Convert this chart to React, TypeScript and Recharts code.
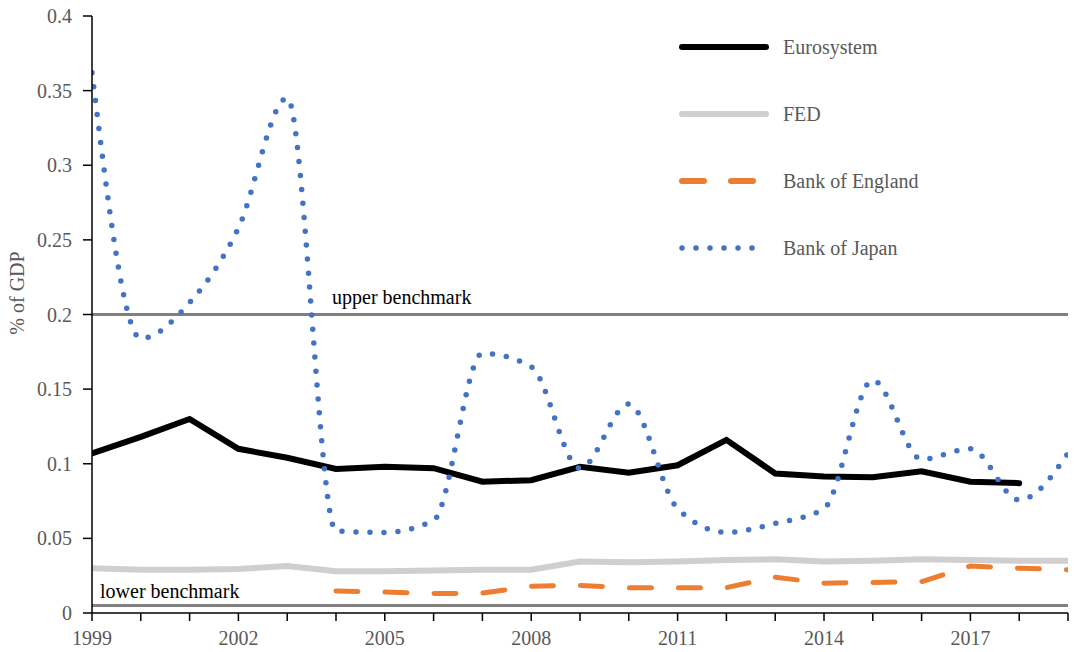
import { Line, LineChart, ReferenceLine, XAxis, YAxis } from "recharts";

const years = [1999, 2000, 2001, 2002, 2003, 2004, 2005, 2006, 2007, 2008, 2009, 2010, 2011, 2012, 2013, 2014, 2015, 2016, 2017, 2018, 2019];
const eurosystem = [0.107, 0.118, 0.13, 0.11, 0.104, 0.0965, 0.098, 0.097, 0.088, 0.089, 0.098, 0.094, 0.099, 0.116, 0.0935, 0.0915, 0.091, 0.095, 0.088, 0.087, null];
const fed = [0.03, 0.029, 0.029, 0.0295, 0.0315, 0.028, 0.028, 0.0285, 0.029, 0.029, 0.0345, 0.034, 0.0345, 0.0355, 0.036, 0.0345, 0.035, 0.036, 0.0355, 0.035, 0.035];
const bankOfEngland = [null, null, null, null, null, 0.0147, 0.014, 0.013, 0.0133, 0.018, 0.0185, 0.017, 0.017, 0.017, 0.024, 0.02, 0.0205, 0.021, 0.0315, 0.03, 0.029];
const bankOfJapan = [0.362, 0.184, 0.208, 0.258, 0.345, 0.055, 0.054, 0.062, 0.174, 0.165, 0.097, 0.14, 0.07, 0.054, 0.06, 0.07, 0.156, 0.103, 0.11, 0.0757, 0.107];

const yTicks = [0, 0.05, 0.1, 0.15, 0.2, 0.25, 0.3, 0.35, 0.4];
const upperBenchmark = 0.2;
const lowerBenchmark = 0.005;

const data = years.map((year, i) => ({
  year,
  eurosystem: eurosystem[i],
  fed: fed[i],
  boe: bankOfEngland[i],
  boj: bankOfJapan[i],
}));

const FONT = "Liberation Serif";
const GREY_TEXT = "#595959";

const series = [
  { key: "eurosystem", name: "Eurosystem", color: "#000000", dash: undefined },
  { key: "fed", name: "FED", color: "#D0CECE", dash: undefined },
  { key: "boe", name: "Bank of England", color: "#ED7D31", dash: "22 27" },
  { key: "boj", name: "Bank of Japan", color: "#4472C4", dash: "0 14" },
];

function XTick({ x, y, payload }: any) {
  const v = payload.value;
  return (
    <g>
      <line x1={x} x2={x} y1={y - 8} y2={y} stroke="#000" strokeWidth={1.5} />
      {(v - 1999) % 3 === 0 && (
        <text x={x} y={y + 24} textAnchor="middle" fill={GREY_TEXT} fontSize={20} fontFamily={FONT}>
          {v}
        </text>
      )}
    </g>
  );
}

function YTick({ x, y, payload }: any) {
  return (
    <text x={x} y={y + 7} textAnchor="end" fill={GREY_TEXT} fontSize={20} fontFamily={FONT}>
      {payload.value}
    </text>
  );
}

function LegendBox() {
  return (
    <svg width={260} height={240} style={{ position: "absolute", left: 676, top: 30 }}>
      {series.map((s, i) => {
        const y = 17 + i * 67;
        return (
          <g key={s.key}>
            <line
              x1={6}
              x2={s.key === "boj" ? 77 : s.key === "boe" ? 81 : 90}
              y1={y}
              y2={y}
              stroke={s.color}
              strokeWidth={s.key === "boj" ? 5.5 : 6}
              strokeLinecap="round"
              strokeDasharray={s.dash}
            />
            <text x={107} y={y + 7} fill={GREY_TEXT} fontSize={20} fontFamily={FONT}>
              {s.name}
            </text>
          </g>
        );
      })}
    </svg>
  );
}

export default function App() {
  return (
    <div style={{ position: "absolute", left: 0, top: 0, width: 1074, height: 652, background: "#fff", fontFamily: FONT }}>
      <LineChart width={1074} height={652} data={data} margin={{ top: 16, right: 6, left: 12, bottom: 9 }}>
        <XAxis
          dataKey="year"
          type="number"
          domain={[1999, 2019]}
          ticks={years}
          interval={0}
          height={30}
          tickLine={false}
          axisLine={{ stroke: "#000", strokeWidth: 1.5 }}
          tick={<XTick />}
          allowDataOverflow
        />
        <YAxis
          domain={[0, 0.4]}
          ticks={yTicks}
          width={80}
          tickSize={9}
          tickMargin={11}
          tickLine={{ stroke: "#000", strokeWidth: 1.5 }}
          axisLine={{ stroke: "#000", strokeWidth: 1.5 }}
          tick={<YTick />}
          label={() => (
            <text
              x={24}
              y={293}
              transform="rotate(-90 24 293)"
              textAnchor="middle"
              fill={GREY_TEXT}
              fontSize={20}
              fontFamily={FONT}
            >
              % of GDP
            </text>
          )}
        />
        <ReferenceLine
          y={upperBenchmark}
          stroke="#808080"
          strokeWidth={3}
          label={(props: any) => (
            <text x={props.viewBox.x + 240} y={props.viewBox.y - 11} fill="#000" fontSize={20} fontFamily={FONT}>
              upper benchmark
            </text>
          )}
        />
        <ReferenceLine
          y={lowerBenchmark}
          stroke="#808080"
          strokeWidth={3}
          label={(props: any) => (
            <text x={props.viewBox.x + 8} y={props.viewBox.y - 8} fill="#000" fontSize={20} fontFamily={FONT}>
              lower benchmark
            </text>
          )}
        />
        <Line dataKey="fed" name="FED" type="linear" stroke="#D0CECE" strokeWidth={6} dot={false} isAnimationActive={false} strokeLinecap="round" />
        <Line dataKey="boe" name="Bank of England" type="linear" stroke="#ED7D31" strokeWidth={5} strokeDasharray="22 27" strokeLinecap="round" dot={false} isAnimationActive={false} />
        <Line dataKey="eurosystem" name="Eurosystem" type="linear" stroke="#000000" strokeWidth={6} dot={false} isAnimationActive={false} strokeLinecap="round" />
        <Line dataKey="boj" name="Bank of Japan" type="monotone" stroke="#4472C4" strokeWidth={5.5} strokeDasharray="0 14" strokeLinecap="round" dot={false} isAnimationActive={false} />
      </LineChart>
      <LegendBox />
    </div>
  );
}
